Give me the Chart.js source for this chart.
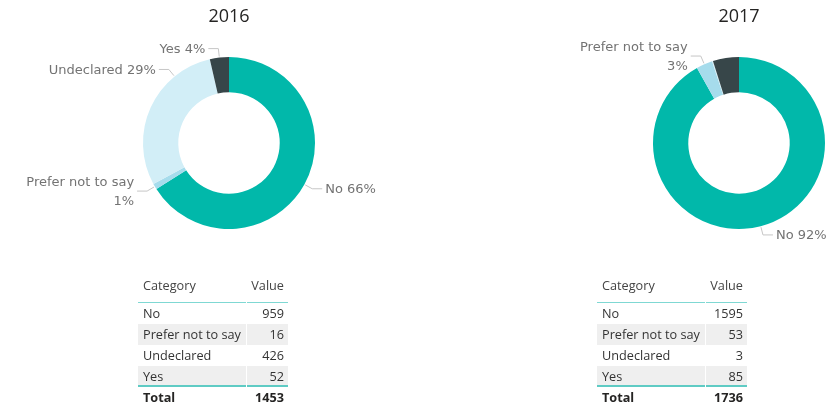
<!DOCTYPE html>
<html>
<head>
<meta charset="utf-8">
<script src="https://cdn.jsdelivr.net/npm/chart.js@4.4.1/dist/chart.umd.min.js"></script>
<style>
  html, body { margin: 0; padding: 0; background: #fff; overflow: hidden; }
  body { width: 840px; height: 406px; position: relative; }
  .chart-box { position: absolute; top: 0; }
  .tbl { position: absolute; top: 271px; width: 150px; font-family: "Open Sans", sans-serif; font-size: 12.7px; color: #333; }
  .row { display: flex; height: 21px; line-height: 21px; }
  .row div { box-sizing: border-box; white-space: nowrap; }
  .row .c1 { width: 108px; padding-left: 5px; margin-right: 1px; }
  .row .c2 { width: 41px; padding-right: 4px; text-align: right; }
  .row.head { height: 32px; line-height: 28px; }
  .row.head div { border-bottom: 1px solid #7fd8d3; color: #444; }
  .row.alt div { background: #efefef; }
  .row.last div { border-bottom: 2px solid #5fcbc4; }
  .row.total { font-weight: bold; color: #252423; }
</style>
</head>
<body>
<div class="chart-box" style="left:0px"><canvas id="chart2016" width="420" height="286"></canvas></div>
<div class="chart-box" style="left:420px"><canvas id="chart2017" width="420" height="286"></canvas></div>
<div class="tbl" id="table2016" style="left:138px"></div>
<div class="tbl" id="table2017" style="left:597px"></div>

<script>
const categories = ['No', 'Prefer not to say', 'Undeclared', 'Yes'];
const values2016 = [959, 16, 426, 52];
const values2017 = [1595, 53, 3, 85];
const colors = ['#01b8aa', '#a6dcec', '#d2eef7', '#374649'];

// labels that are shown outside the donut for each year
const shown2016 = ['No', 'Prefer not to say', 'Undeclared', 'Yes'];
const shown2017 = ['No', 'Prefer not to say'];

// draws "Name xx%" labels outside the ring with a small leader line
const outsideLabels = {
  id: 'outsideLabels',
  afterDatasetsDraw(chart, args, opts) {
    const ctx = chart.ctx;
    const meta = chart.getDatasetMeta(0);
    const data = chart.data.datasets[0].data;
    const total = data.reduce((a, b) => a + b, 0);

    ctx.save();
    ctx.font = opts.font;
    meta.data.forEach((arc, i) => {
      const name = chart.data.labels[i];
      if (!opts.show.includes(name)) return;

      const p = arc.getProps(['x', 'y', 'startAngle', 'endAngle', 'outerRadius'], true);
      const frac = opts.anchor[name] ?? 0.5;
      const a = p.startAngle + (p.endAngle - p.startAngle) * frac;
      const cos = Math.cos(a), sin = Math.sin(a);

      const x0 = p.x + cos * (p.outerRadius + 1);
      const y0 = p.y + sin * (p.outerRadius + 1);
      const x1 = p.x + cos * (p.outerRadius + opts.elbow);
      const y1 = p.y + sin * (p.outerRadius + opts.elbow);
      const dir = cos >= 0 ? 1 : -1;
      const x2 = x1 + dir * opts.run;

      ctx.strokeStyle = opts.lineColor;
      ctx.lineWidth = 1;
      ctx.beginPath();
      ctx.moveTo(x0, y0);
      ctx.lineTo(x1, y1);
      ctx.lineTo(x2, y1);
      ctx.stroke();

      const pct = Math.round(data[i] / total * 100) + '%';
      const full = name + ' ' + pct;
      const lines = ctx.measureText(full).width > opts.maxWidth ? [name, pct] : [full];

      ctx.fillStyle = opts.color;
      ctx.textAlign = dir > 0 ? 'left' : 'right';
      ctx.textBaseline = 'middle';
      const tx = x2 + dir * opts.gap;
      let ty = y1 - (lines.length - 1) * opts.lineHeight / 2 + 1;
      lines.forEach(line => {
        ctx.fillText(line, tx, ty);
        ty += opts.lineHeight;
      });
    });
    ctx.restore();
  }
};

function makeDonut(canvasId, title, values, centerX, show, anchor) {
  const canvas = document.getElementById(canvasId);
  const radius = 86;
  return new Chart(canvas, {
    type: 'doughnut',
    data: {
      labels: categories,
      datasets: [{
        data: values,
        backgroundColor: colors,
        borderWidth: 0
      }]
    },
    options: {
      responsive: false,
      animation: false,
      cutout: '59%',
      layout: {
        padding: { left: centerX - radius, right: canvas.width - centerX - radius, top: 0, bottom: 57 }
      },
      plugins: {
        legend: { display: false },
        tooltip: { enabled: false },
        title: {
          display: true,
          text: title,
          color: '#252423',
          font: { family: '"Open Sans", sans-serif', size: 18, weight: 'normal', lineHeight: 1.2 },
          padding: { top: 6, bottom: 29.4 }
        },
        outsideLabels: {
          show,
          anchor,
          font: '13px "DejaVu Sans", sans-serif',
          color: '#737373',
          lineColor: '#c6c6c6',
          elbow: 9,
          run: 10,
          gap: 3,
          lineHeight: 19,
          maxWidth: 120
        }
      }
    },
    plugins: [outsideLabels]
  });
}

function makeTable(elId, values) {
  const el = document.getElementById(elId);
  let html = '<div class="row head"><div class="c1">Category</div><div class="c2">Value</div></div>';
  categories.forEach((cat, i) => {
    let cls = 'row';
    if (i % 2 === 1) cls += ' alt';
    if (i === categories.length - 1) cls += ' last';
    html += `<div class="${cls}"><div class="c1">${cat}</div><div class="c2">${values[i]}</div></div>`;
  });
  const total = values.reduce((a, b) => a + b, 0);
  html += `<div class="row total"><div class="c1">Total</div><div class="c2">${total}</div></div>`;
  el.innerHTML = html;
}

makeDonut('chart2016', '2016', values2016, 229, shown2016, { 'Undeclared': 0.75 });
makeDonut('chart2017', '2017', values2017, 319, shown2017, {});
makeTable('table2016', values2016);
makeTable('table2017', values2017);
</script>
</body>
</html>
